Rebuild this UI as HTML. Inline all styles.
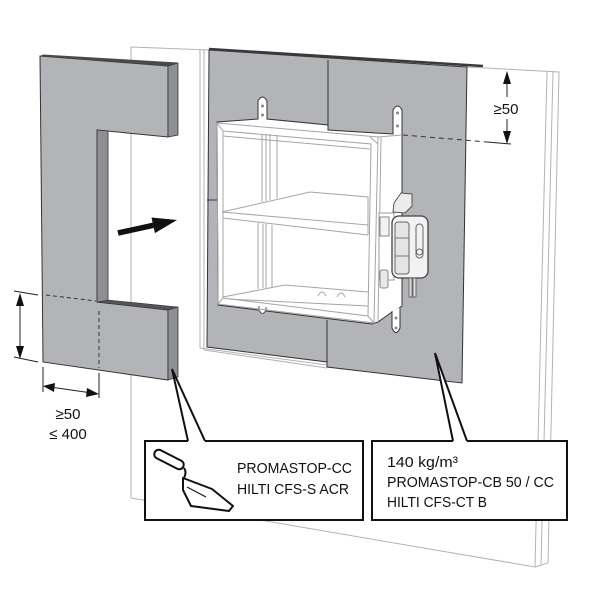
<!DOCTYPE html>
<html><head><meta charset="utf-8"><style>
html,body{margin:0;padding:0;background:#fff;}
svg{display:block;}
text{font-family:"Liberation Sans",sans-serif;fill:#111;}
</style></head><body>
<svg width="600" height="600" viewBox="0 0 600 600" xmlns="http://www.w3.org/2000/svg">
<rect width="600" height="600" fill="#fff"/>

<!-- wall -->
<g fill="none" stroke="#b3b3b3" stroke-width="1">
  <polyline points="131,498 131,47 209,50"/>
  <line x1="200" y1="49" x2="200" y2="348"/>
  <line x1="204" y1="49" x2="204" y2="350"/>
  <line x1="200" y1="348" x2="327" y2="365"/>
  <line x1="204" y1="350" x2="327" y2="368"/>
  <polyline points="467,67 559,72 548,563 535,567 131,498"/>
  <line x1="547" y1="71" x2="535" y2="567"/>
  <line x1="553" y1="72" x2="541" y2="565"/>
</g>

<!-- grey panel -->
<polygon points="209,50 467,67 462,383 327,367 327,362 207,347" fill="#b3b4b7" stroke="#333" stroke-width="1"/>
<line x1="209" y1="49" x2="483" y2="66" stroke="#3a3a3a" stroke-width="2.5"/>
<line x1="328" y1="60" x2="328" y2="130" stroke="#333"/>
<line x1="327" y1="320" x2="327" y2="367" stroke="#333"/>
<line x1="207" y1="200" x2="217" y2="200" stroke="#333"/>

<!-- damper white area -->
<path d="M217,122 L258,119 L258,101 Q262.5,93 267,101 L267,119 L328,125 L328,130 L393,134 L393,110 Q397.5,102 402,110 L402,306 L392,312 L378,322 L372,324 L218,305 Z" fill="#fff" stroke="#333" stroke-width="1"/>
<path d="M259,306 L259,310 Q262.5,317 266,310 L266,307" fill="#fff" stroke="#555"/>
<path d="M392,311 L392,328 Q396,337 400,328 L400,307" fill="#fff" stroke="#333"/>

<g fill="none" stroke="#a5a5a5" stroke-width="1">
  <polygon points="217,123 378,137 374,323 218,304"/>
  <polygon points="223,131 371,144 368,316 223,298"/>
  <line x1="223" y1="136" x2="370" y2="149"/>
  <line x1="378" y1="137" x2="402" y2="135"/>
  <line x1="381" y1="137" x2="378" y2="322"/>
  <!-- blade -->
  <polygon points="222,212 310,192 368,197 368,225"/>
  <line x1="223" y1="218" x2="368" y2="235"/>
  <line x1="368" y1="225" x2="368" y2="235"/>
  <!-- channels upper -->
  <line x1="262" y1="134" x2="262" y2="202"/>
  <line x1="266" y1="134" x2="266" y2="201"/>
  <line x1="270" y1="134" x2="270" y2="200"/>
  <line x1="277" y1="135" x2="277" y2="198"/>
  <!-- channels lower -->
  <line x1="258" y1="223" x2="258" y2="289"/>
  <line x1="263" y1="224" x2="263" y2="288"/>
  <line x1="266" y1="224" x2="266" y2="288"/>
  <line x1="272" y1="225" x2="272" y2="287"/>
  <!-- floor -->
  <line x1="223" y1="297" x2="285" y2="285"/>
  <line x1="285" y1="285" x2="368" y2="292"/>
  <line x1="228" y1="299" x2="368" y2="306"/>
  <path d="M318,296 Q322,288 326,296 M337,297 Q341,289 345,297"/>
  <!-- corner hatches -->
  <line x1="217" y1="123" x2="223" y2="131"/>
  <line x1="370" y1="137" x2="378" y2="144"/>
  <line x1="218" y1="304" x2="223" y2="298"/>
  <line x1="368" y1="316" x2="374" y2="323"/>
</g>
<g fill="#888">
  <circle cx="262.5" cy="106" r="1.5"/><circle cx="262.5" cy="115" r="1.5"/>
  <circle cx="397.5" cy="113" r="1.5"/><circle cx="397.5" cy="126" r="1.5"/>
  <circle cx="396" cy="318" r="1.5"/><circle cx="396" cy="328" r="1.5"/>
</g>

<!-- actuator -->
<rect x="379" y="213" width="15" height="67" fill="#fff" stroke="#999"/>
<rect x="380" y="217" width="9" height="19" fill="#f2f2f2" stroke="#888"/>
<rect x="380" y="270" width="8" height="18" rx="2" fill="#e8e8e8" stroke="#888"/>
<polygon points="393,212 394,203 401,193 412,194 412,206 405,213" fill="#ececec" stroke="#555"/>
<rect x="392" y="216" width="36" height="62" rx="7" fill="#f2f2f2" stroke="#444" stroke-width="1.3"/>
<rect x="395" y="222" width="14" height="52" rx="3" fill="#e4e4e4" stroke="#666"/>
<line x1="395" y1="238" x2="409" y2="238" stroke="#777"/>
<line x1="395" y1="256" x2="409" y2="256" stroke="#777"/>
<rect x="416" y="224" width="7" height="34" rx="3.5" fill="none" stroke="#666"/>
<circle cx="419.5" cy="252" r="3" fill="none" stroke="#666"/>
<rect x="409" y="278" width="3" height="19" fill="#ddd" stroke="#555" stroke-width="0.8"/>
<rect x="413" y="278" width="3" height="19" fill="#ddd" stroke="#555" stroke-width="0.8"/>

<!-- left C panel -->
<polygon points="40,56 168,66 168,137 97,130 97,302 168,310 168,380 43,362" fill="#b3b4b7" stroke="#333" stroke-width="1"/>
<polygon points="40,56 43,54.5 178,62.5 168,66" fill="#4a4a4a"/>
<polygon points="168,66 178,63 178,135 168,137" fill="#8e8f92" stroke="#333" stroke-width="0.8"/>
<polygon points="97,130 108,131 108,301 97,302" fill="#8e8f92" stroke="#333" stroke-width="0.8"/>
<polygon points="97,302 108,300 178,307 168,310" fill="#555" stroke="#333" stroke-width="0.6"/>
<polygon points="168,310 178,307 178,377 168,380" fill="#8e8f92" stroke="#333" stroke-width="0.8"/>

<!-- dashed -->
<g stroke="#333" stroke-width="1" stroke-dasharray="4,3" fill="none">
  <line x1="46" y1="295" x2="96" y2="301"/>
  <line x1="99" y1="311" x2="99" y2="368"/>
  <line x1="403" y1="135" x2="487" y2="142" stroke-dasharray="5,4"/>
</g>

<!-- dimensions -->
<g stroke="#222" stroke-width="1" fill="none">
  <line x1="14" y1="291" x2="38" y2="295"/>
  <line x1="14" y1="357" x2="38" y2="362"/>
  <line x1="20" y1="300" x2="20" y2="352"/>
  <line x1="43" y1="367" x2="43" y2="392"/>
  <line x1="99" y1="373" x2="99" y2="398"/>
  <line x1="50" y1="387" x2="92" y2="393"/>
  <line x1="487" y1="142" x2="511" y2="144"/>
  <line x1="507" y1="80" x2="507" y2="97"/>
  <line x1="507" y1="119" x2="507" y2="135"/>
</g>
<g fill="#111">
  <polygon points="20,293 16,306 24,306"/>
  <polygon points="20,359 16,346 24,346"/>
  <polygon points="43,386 55,383 54,392"/>
  <polygon points="99,394 87,388 86,397"/>
  <polygon points="507,71 503,84 511,84"/>
  <polygon points="507,144 503,131 511,131"/>
</g>
<text x="68" y="419" font-size="15" text-anchor="middle">≥50</text>
<text x="68" y="439" font-size="15" text-anchor="middle">≤ 400</text>
<text x="506" y="114" font-size="15" text-anchor="middle">≥50</text>

<!-- big arrow -->
<polygon points="117.4,230.3 152.6,222.6 151.5,217.5 177,220 154.9,233.1 153.8,228 118.6,235.7" fill="#111"/>

<!-- callout 1 -->
<polygon points="145,441 188,441 172,369 205,441 363,441 363,520 145,520" fill="#fff"/>
<path d="M188,441 L145,441 L145,520 L363,520 L363,441 L205,441 M188,441 L172,369 L205,441" fill="none" stroke="#111" stroke-width="2" stroke-linejoin="miter"/>
<!-- trowel -->
<g fill="none" stroke="#111" stroke-width="2" stroke-linejoin="round">
  <rect x="153" y="455" width="32" height="9" rx="4.5" transform="rotate(27 169 459.5)"/>
  <path d="M184,468 Q187,472 184,478"/>
  <path d="M183,478 L212,489 L233,506 L229,511 L191,506 L183,490 Z"/>
  <line x1="187" y1="487" x2="206" y2="497" stroke-width="1"/>
</g>
<text x="237" y="473" font-size="15" textLength="115" lengthAdjust="spacingAndGlyphs">PROMASTOP-CC</text>
<text x="237" y="494" font-size="15" textLength="112" lengthAdjust="spacingAndGlyphs">HILTI CFS-S ACR</text>

<!-- callout 2 -->
<polygon points="372,441 453,441 435,353 467,441 567,441 567,520 372,520" fill="#fff"/>
<path d="M453,441 L372,441 L372,520 L567,520 L567,441 L467,441 M453,441 L435,353 L467,441" fill="none" stroke="#111" stroke-width="2"/>
<text x="387" y="467" font-size="15" textLength="71" lengthAdjust="spacingAndGlyphs">140 kg/m³</text>
<text x="387" y="487" font-size="15" textLength="167" lengthAdjust="spacingAndGlyphs">PROMASTOP-CB 50 / CC</text>
<text x="387" y="507" font-size="15" textLength="100" lengthAdjust="spacingAndGlyphs">HILTI CFS-CT B</text>
</svg>
</body></html>
